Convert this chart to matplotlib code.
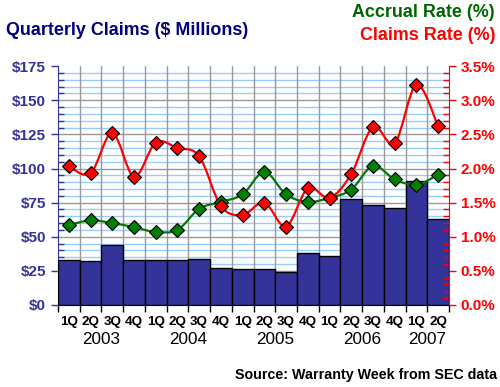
import numpy as np
import matplotlib
matplotlib.use("Agg")
import matplotlib.pyplot as plt
from matplotlib.path import Path
from matplotlib.patches import PathPatch
from matplotlib.ticker import MultipleLocator, FuncFormatter

plt.rcParams['font.family'] = ['Liberation Sans', 'DejaVu Sans']

# Data
quarters = ['1Q', '2Q', '3Q', '4Q', '1Q', '2Q', '3Q', '4Q', '1Q',
            '2Q', '3Q', '4Q', '1Q', '2Q', '3Q', '4Q', '1Q', '2Q']
years = ['2003', '2004', '2005', '2006', '2007']
year_pos = [1.5, 5.5, 9.5, 13.5, 16.5]
claims = [33, 32, 44, 33, 33, 33, 34, 27, 26, 26, 24, 38, 36, 78, 73, 71, 91, 63]
claims_rate = [2.03, 1.93, 2.52, 1.88, 2.38, 2.30, 2.18, 1.45, 1.32,
               1.50, 1.15, 1.71, 1.57, 1.92, 2.61, 2.37, 3.23, 2.62]
accrual_rate = [1.17, 1.24, 1.20, 1.14, 1.07, 1.10, 1.41, 1.51, 1.62,
                1.95, 1.62, 1.51, 1.57, 1.69, 2.04, 1.84, 1.76, 1.91]

navy = '#333399'


def smooth_path(xs, ys):
    # Catmull-Rom style bezier, like a spreadsheet "smoothed line"
    pts = np.column_stack([xs, ys]).astype(float)
    n = len(pts)
    verts = [pts[0]]
    codes = [Path.MOVETO]
    for i in range(n - 1):
        p0 = pts[max(i - 1, 0)]
        p1 = pts[i]
        p2 = pts[i + 1]
        p3 = pts[min(i + 2, n - 1)]
        c1 = p1 + (p2 - p0) / 6.0
        c2 = p2 - (p3 - p1) / 6.0
        verts += [c1, c2, p2]
        codes += [Path.CURVE4] * 3
    return Path(verts, codes)


fig = plt.figure(figsize=(5, 3.87), dpi=100)
ax = fig.add_axes([0.116, 0.212, 0.782, 0.617])
x = np.arange(len(quarters))

ax.bar(x, claims, width=1.0, color=navy, edgecolor='black', linewidth=1.0, zorder=3)
ax.set_xlim(-0.5, len(quarters) - 0.5)
ax.set_ylim(0, 175)

# grid
for v in np.arange(5, 175, 5):
    if v % 25 == 0:
        ax.axhline(v, color='#999999', linewidth=1.0, zorder=1)
    else:
        ax.axhline(v, color='#99ccff', linewidth=1.0, zorder=1)
for b in np.arange(0.5, len(quarters) - 0.5, 1):
    ax.axvline(b, color='#999999', linewidth=1.0, zorder=1.5)

ax.yaxis.set_major_locator(MultipleLocator(25))
ax.yaxis.set_minor_locator(MultipleLocator(5))
ax.yaxis.set_major_formatter(FuncFormatter(lambda v, p: f'${v:.0f}'))
ax.tick_params(axis='y', which='major', direction='out', length=5, color=navy,
               labelcolor=navy, labelsize=11, width=1)
ax.tick_params(axis='y', which='minor', direction='in', length=4, color=navy, width=1)
for t in ax.get_yticklabels():
    t.set_fontweight('bold')

ax.set_xticks(np.arange(-0.5, len(quarters), 1))
ax.set_xticklabels([])
ax.tick_params(axis='x', which='major', direction='out', length=5, color='black', width=1)
for i, q in enumerate(quarters):
    ax.text(i, -0.045, q, transform=ax.get_xaxis_transform(), ha='center', va='top',
            fontsize=9.7, fontweight='bold', color='black')
for yp, yr in zip(year_pos, years):
    ax.text(yp, -0.113, yr, transform=ax.get_xaxis_transform(), ha='center', va='top',
            fontsize=12.3, color='black')

ax.spines['top'].set_visible(False)
ax.spines['left'].set_color(navy)
ax.spines['bottom'].set_color('black')
ax.spines['right'].set_visible(False)

ax2 = ax.twinx()
ax2.set_ylim(0, 3.5)
ax2.yaxis.set_major_locator(MultipleLocator(0.5))
ax2.yaxis.set_minor_locator(MultipleLocator(0.1))
ax2.yaxis.set_major_formatter(FuncFormatter(lambda v, p: f'{v:.1f}%'))
ax2.tick_params(axis='y', which='major', direction='out', length=5, color='red',
                labelcolor='red', labelsize=11, width=1)
ax2.tick_params(axis='y', which='minor', direction='in', length=4, color='red', width=1)
for t in ax2.get_yticklabels():
    t.set_fontweight('bold')
ax2.spines['right'].set_color('red')
ax2.spines['top'].set_visible(False)
ax2.spines['left'].set_visible(False)
ax2.spines['bottom'].set_visible(False)

ax2.add_patch(PathPatch(smooth_path(x, accrual_rate), facecolor='none',
                        edgecolor='#007a00', linewidth=1.6, zorder=4))
ax2.add_patch(PathPatch(smooth_path(x, claims_rate), facecolor='none',
                        edgecolor='#ff0000', linewidth=1.6, zorder=4))
ax2.plot(x, accrual_rate, linestyle='none', marker='D', markersize=7,
         markerfacecolor='#008000', markeredgecolor='black', markeredgewidth=0.8, zorder=5)
ax2.plot(x, claims_rate, linestyle='none', marker='D', markersize=7,
         markerfacecolor='#ff0000', markeredgecolor='black', markeredgewidth=0.8, zorder=5)

fig.text(0.012, 0.922, 'Quarterly Claims ($ Millions)', color='#000080', fontsize=12.9,
         fontweight='bold', ha='left', va='center')
fig.text(0.99, 0.968, 'Accrual Rate (%)', color='#006600', fontsize=12.9,
         fontweight='bold', ha='right', va='center')
fig.text(0.99, 0.909, 'Claims Rate (%)', color='#ff0000', fontsize=12.9,
         fontweight='bold', ha='right', va='center')
fig.text(0.994, 0.03, 'Source: Warranty Week from SEC data', color='black', fontsize=10.3,
         fontweight='bold', ha='right', va='center')

fig.savefig('out.png', dpi=100)
